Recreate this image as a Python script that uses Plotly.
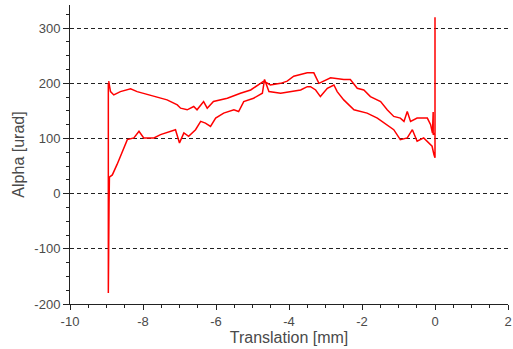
import plotly.graph_objects as go

# Lower branch (scan forward from -9 to 0, including the start spike and end spike)
lower_x = [
    -8.95, -8.95, -8.94, -8.93, -8.92, -8.84, -8.71, -8.57, -8.43, -8.25, -8.11, -7.98, -7.7, -7.52,
    -7.25, -7.11, -7.0, -6.88, -6.75, -6.56, -6.42, -6.29, -6.15, -6.01, -5.79, -5.51, -5.38, -5.24,
    -4.97, -4.73, -4.67, -4.55, -4.23, -3.96, -3.68, -3.5, -3.41, -3.27, -3.14, -2.95, -2.77, -2.68,
    -2.5, -2.22, -1.86, -1.58, -1.31, -1.13, -0.95, -0.76, -0.62, -0.49, -0.31, -0.17, -0.08, -0.03,
    0.0, 0.0, 0.0,
]
lower_y = [
    200, -180, -140, -17, 30, 34, 53, 77, 98, 101, 113, 101, 101, 107,
    113, 116, 92, 110, 104, 116, 131, 128, 122, 137, 146, 152, 149, 167,
    173, 182, 207, 185, 182, 185, 188, 194, 194, 188, 176, 191, 197, 185,
    170, 152, 146, 137, 125, 116, 98, 101, 116, 95, 101, 92, 86, 71,
    65, 320, 110,
]
# Upper branch (scan back from 0 to -9)
upper_x = [
    -0.05, -0.05, -0.07, -0.12, -0.21, -0.49, -0.67, -0.76, -0.85, -0.95, -1.13, -1.31, -1.49, -1.77,
    -1.95, -2.13, -2.32, -2.5, -2.86, -3.18, -3.32, -3.5, -3.68, -3.87, -4.05, -4.23, -4.51, -4.69,
    -4.78, -5.05, -5.33, -5.69, -6.07, -6.15, -6.24, -6.34, -6.52, -6.61, -6.79, -6.97, -7.06, -7.34,
    -7.7, -7.98, -8.16, -8.34, -8.62, -8.8, -8.89, -8.94,
]
upper_y = [
    107, 148, 110, 125, 137, 137, 131, 149, 131, 137, 140, 152, 167, 176,
    188, 191, 207, 207, 210, 200, 219, 219, 216, 213, 204, 200, 197, 204,
    200, 188, 182, 173, 167, 161, 155, 167, 152, 158, 152, 155, 161, 170,
    176, 182, 185, 190, 185, 179, 185, 204,
]

x_tick_vals = [-10, -8, -6, -4, -2, 0, 2]
x_tick_text = ["-10", "-8", "-6", "-4", "-2", "0", "2"]
y_tick_vals = [-200, -100, 0, 100, 200, 300]
y_tick_text = ["-200", "-100", "0", "100", "200", "300"]

fig = go.Figure()
fig.add_trace(go.Scatter(
    x=lower_x + upper_x, y=lower_y + upper_y, mode="lines",
    line=dict(color="#ff0000", width=1.5), showlegend=False,
))

font = dict(family="Liberation Sans, Arial, sans-serif", size=13, color="#4a4a4a")

fig.update_layout(
    width=513, height=349,
    margin=dict(l=70, r=5, t=5, b=45),
    paper_bgcolor="white", plot_bgcolor="white",
    font=font,
    xaxis=dict(
        range=[-10, 2], tickvals=x_tick_vals, ticktext=x_tick_text,
        showgrid=False, zeroline=False,
        showline=True, linecolor="#222222", linewidth=1,
        ticks="outside", ticklen=5, tickcolor="#222222",
        minor=dict(dtick=0.5, tick0=0, ticks="outside", ticklen=3, tickcolor="#222222", showgrid=False),
        title=dict(text="Translation [mm]", standoff=4), automargin=False,
    ),
    yaxis=dict(
        range=[-200, 342], tickvals=y_tick_vals, ticktext=y_tick_text, zeroline=False,
        showgrid=True, gridcolor="#222222", gridwidth=1, griddash="4px,3px",
        showline=True, linecolor="#222222", linewidth=1,
        ticks="outside", ticklen=6, tickcolor="#222222",
        minor=dict(dtick=25, tick0=0, ticks="outside", ticklen=3, tickcolor="#222222", showgrid=False),
        title=dict(text="Alpha [urad]", standoff=5), automargin=False,
    ),
)

fig.write_html("out.html", config={"displayModeBar": False},
               post_script="document.body.style.margin='0';")
